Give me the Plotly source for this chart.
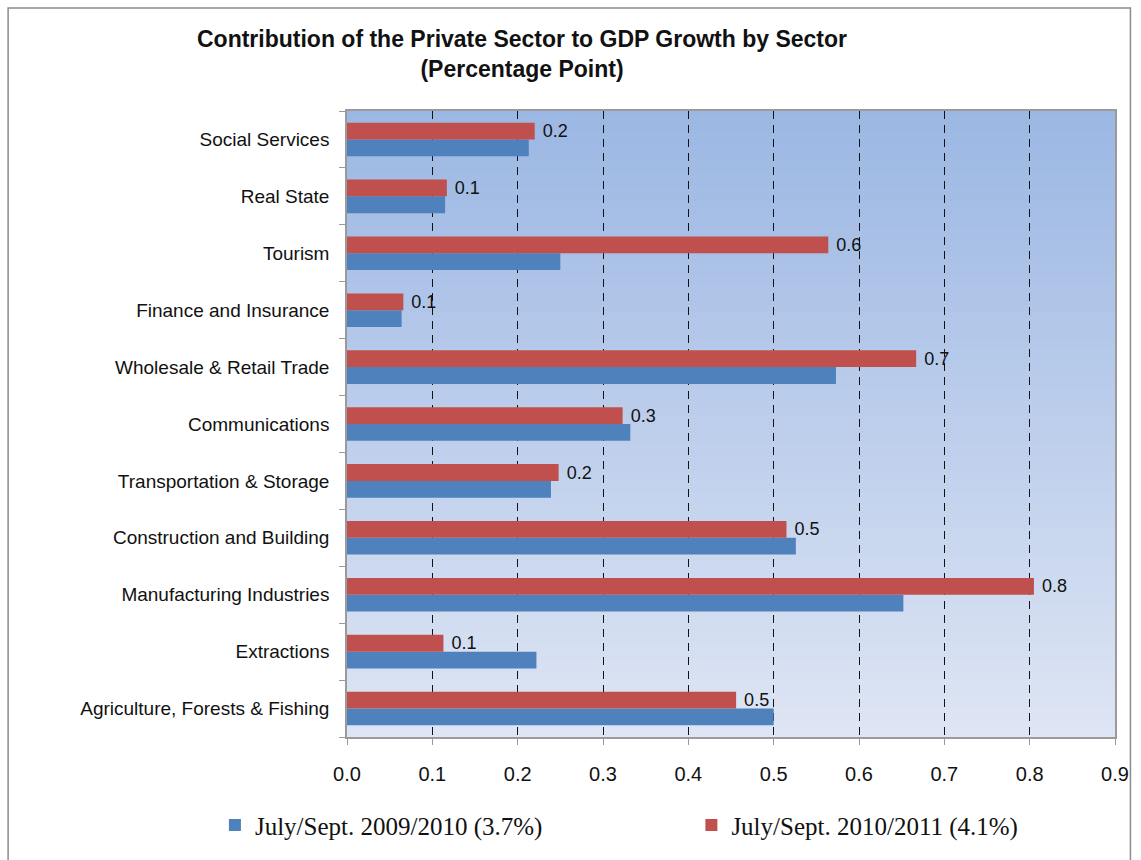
import plotly.graph_objects as go

# Sectors, listed bottom to top as they appear on the category axis
sectors = [
    "Agriculture, Forests & Fishing",
    "Extractions",
    "Manufacturing Industries",
    "Construction and Building",
    "Transportation & Storage",
    "Communications",
    "Wholesale & Retail Trade",
    "Finance and Insurance",
    "Tourism",
    "Real State",
    "Social Services",
]

# Contribution to GDP growth (percentage points)
q1_2009_2010 = [0.500, 0.222, 0.652, 0.526, 0.239, 0.332, 0.573, 0.064, 0.250, 0.115, 0.213]
q1_2010_2011 = [0.456, 0.113, 0.805, 0.515, 0.248, 0.323, 0.667, 0.066, 0.564, 0.117, 0.220]

series_names = ["July/Sept. 2009/2010 (3.7%)", "July/Sept. 2010/2011 (4.1%)"]

x_ticks = [0.0, 0.1, 0.2, 0.3, 0.4, 0.5, 0.6, 0.7, 0.8, 0.9]

BLUE = "#4F81BD"
RED = "#C0504D"
W, H = 1141, 860
ML, MR, MT, MB = 346.5, 24, 110.5, 118

pw = W - ML - MR
ph = H - MT - MB
def px_x(p):
    return (p - ML) / pw
def px_y(p):
    return (H - MB - p) / ph

fig = go.Figure()
fig.add_trace(go.Bar(
    y=sectors, x=q1_2009_2010, orientation="h", name=series_names[0],
    marker=dict(color=BLUE, line=dict(width=0)), legend="legend",
))
fig.add_trace(go.Bar(
    y=sectors, x=q1_2010_2011, orientation="h", name=series_names[1],
    marker=dict(color=RED, line=dict(width=0)), legend="legend2",
    texttemplate=" %{x:.1f}", textposition="outside", cliponaxis=False,
    constraintext="none",
    textfont=dict(family="Liberation Sans, Arial", size=18, color="#111"),
))

# vertical gradient behind the plot area, built from thin horizontal strips
top_rgb = (155, 183, 227)
bot_rgb = (222, 229, 244)
n = 90
shapes = []
for i in range(n):
    t = i / (n - 1)
    c = tuple(round(top_rgb[k] + (bot_rgb[k] - top_rgb[k]) * t) for k in range(3))
    shapes.append(dict(
        type="rect", xref="x domain", yref="y domain",
        x0=0, x1=1, y0=1 - (i + 1) / n, y1=1 - i / n + 0.002,
        fillcolor="rgb(%d,%d,%d)" % c, line=dict(width=0), layer="below",
    ))

# outer chart frame
shapes.append(dict(
    type="rect", xref="paper", yref="paper",
    x0=px_x(6.5), x1=px_x(1132.5), y0=px_y(880), y1=px_y(6.5),
    line=dict(color="#8C8C8C", width=1.5), fillcolor="rgba(0,0,0,0)", layer="above",
))

legend_style = dict(
    orientation="h", xanchor="left", y=px_y(831), yanchor="middle",
    font=dict(family="Liberation Serif, Times New Roman", size=25, color="#111"),
    bgcolor="rgba(0,0,0,0)", borderwidth=0,
)

fig.update_layout(
    width=W, height=H,
    margin=dict(l=ML, r=MR, t=MT, b=MB, pad=0),
    paper_bgcolor="white",
    plot_bgcolor="rgba(0,0,0,0)",
    barmode="group",
    bargap=0.41,
    bargroupgap=0,
    shapes=shapes,
    showlegend=True,
    legend=dict(x=px_x(214), **legend_style),
    legend2=dict(x=px_x(692), **legend_style),
    annotations=[dict(
        text="<b>Contribution of the Private Sector to GDP Growth by Sector</b><br><b>(Percentage Point)</b>",
        xref="paper", yref="paper", x=px_x(522), y=px_y(53), xanchor="center", yanchor="middle",
        showarrow=False, align="center",
        font=dict(family="Liberation Sans, Arial", size=23, color="#111"),
    )],
    font=dict(family="Liberation Sans, Arial", color="#111"),
)

fig.update_xaxes(
    range=[0, 0.9], tickvals=x_ticks, ticktext=["%.1f" % v for v in x_ticks],
    showgrid=True, gridcolor="#111", griddash="8px,6px", gridwidth=1,
    zeroline=False,
    showline=True, linecolor="#9A9A9A", linewidth=1.5, mirror=True,
    ticks="outside", ticklen=6, tickcolor="#9A9A9A",
    ticklabelstandoff=12,
    tickfont=dict(family="Liberation Sans, Arial", size=20, color="#111"),
)
fig.update_yaxes(
    type="category", categoryorder="array", categoryarray=sectors,
    showgrid=False, zeroline=False,
    showline=True, linecolor="#9A9A9A", linewidth=1.5, mirror=True,
    ticks="outside", ticklen=6, tickcolor="#9A9A9A", tickson="boundaries",
    ticklabelstandoff=12,
    tickfont=dict(family="Liberation Sans, Arial", size=19, color="#111"),
)

fig.write_html("out.html")
